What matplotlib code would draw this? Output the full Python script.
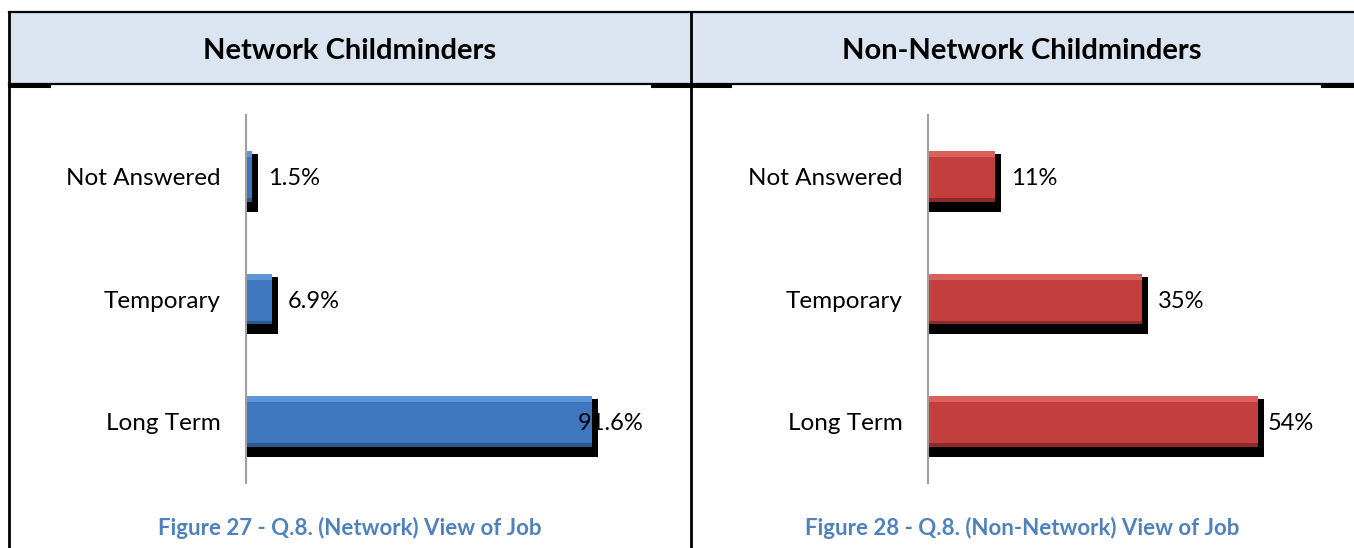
import matplotlib
matplotlib.use("Agg")
import matplotlib.pyplot as plt
from matplotlib.transforms import ScaledTranslation

plt.rcParams['font.family'] = ['Lato', 'DejaVu Sans']

# data
categories = ["Long Term", "Temporary", "Not Answered"]
network_vals = [91.6, 6.9, 1.5]
network_labels = ["91.6%", "6.9%", "1.5%"]
non_network_vals = [54, 35, 11]
non_network_labels = ["54%", "35%", "11%"]
titles = ["Network Childminders", "Non-Network Childminders"]
captions = ["Figure 27 - Q.8. (Network) View of Job",
            "Figure 28 - Q.8. (Non-Network) View of Job"]

W, H = 1354, 548
fig = plt.figure(figsize=(W / 100, H / 100), dpi=100)

# table background drawn in pixel coordinates
bg = fig.add_axes([0, 0, 1, 1], zorder=0)
bg.set_xlim(0, W)
bg.set_ylim(H, 0)
bg.axis("off")
bg.fill_between([9, W], 12, 84, color="#DBE5F1", lw=0)
bg.plot([9, W], [12, 12], color="black", lw=1.6)
bg.plot([9, W], [84, 84], color="black", lw=1.6)
bg.plot([9, 9], [12, H], color="black", lw=2)
bg.plot([691, 691], [12, H], color="black", lw=2)
for x0, x1 in [(9, 49), (652, 730), (1322, W)]:
    bg.plot([x0, x1], [85.5, 85.5], color="black", lw=2.2)
bg.text(350, 51, titles[0], ha="center", va="center", fontsize=21, fontweight="bold")
bg.text(1022, 51, titles[1], ha="center", va="center", fontsize=21, fontweight="bold")
bg.text(350, 528, captions[0], ha="center", va="center", fontsize=16,
        fontweight="bold", color="#4F81BD")
bg.text(1022, 528, captions[1], ha="center", va="center", fontsize=16,
        fontweight="bold", color="#4F81BD")


def panel(left_px, xmax, vals, labels, pads, main, light, dark):
    ax = fig.add_axes([left_px / W, (H - 483) / H, 400 / W, 368 / H], zorder=2)
    ax.patch.set_alpha(0)
    y = range(len(categories))
    h = 0.415
    # black drop shadow (down and to the right)
    for dx, dy in [(0, -10), (6, -10), (6, -3)]:
        off = ScaledTranslation(dx / 100, dy / 100, fig.dpi_scale_trans)
        ax.barh(y, vals, height=h, color="black", transform=ax.transData + off, zorder=1)
    ax.barh(y, vals, height=h, color=main, zorder=2)
    ax.barh([i + h / 2 - 0.025 for i in y], vals, height=0.05, color=light, zorder=3)
    ax.barh([i - h / 2 + 0.015 for i in y], vals, height=0.03, color=dark, zorder=3)
    for i, (v, lab, p) in enumerate(zip(vals, labels, pads)):
        ax.annotate(lab, (v, i), xytext=(p, -2), textcoords="offset pixels",
                    ha="left", va="center", fontsize=17, zorder=4)
    ax.set_xlim(0, xmax)
    ax.set_ylim(-0.5, len(categories) - 0.5)
    ax.set_yticks(list(y))
    ax.set_yticklabels(categories, fontsize=17.5)
    ax.tick_params(axis="y", length=0, pad=18)
    ax.set_xticks([])
    for s in ["top", "right", "bottom"]:
        ax.spines[s].set_visible(False)
    ax.spines["left"].set_color("#A0A0A0")
    ax.spines["left"].set_linewidth(1.5)
    ax.spines["left"].set_zorder(5)
    return ax


panel(246, 400 / 3.78, network_vals, network_labels, [-14, 16, 16],
      "#3F77BE", "#5E95D8", "#2C5890")
panel(928, 400 / 6.11, non_network_vals, non_network_labels, [10, 16, 16],
      "#C23F3D", "#DA605D", "#8C2B29")

fig.savefig("out.png", dpi=100)
